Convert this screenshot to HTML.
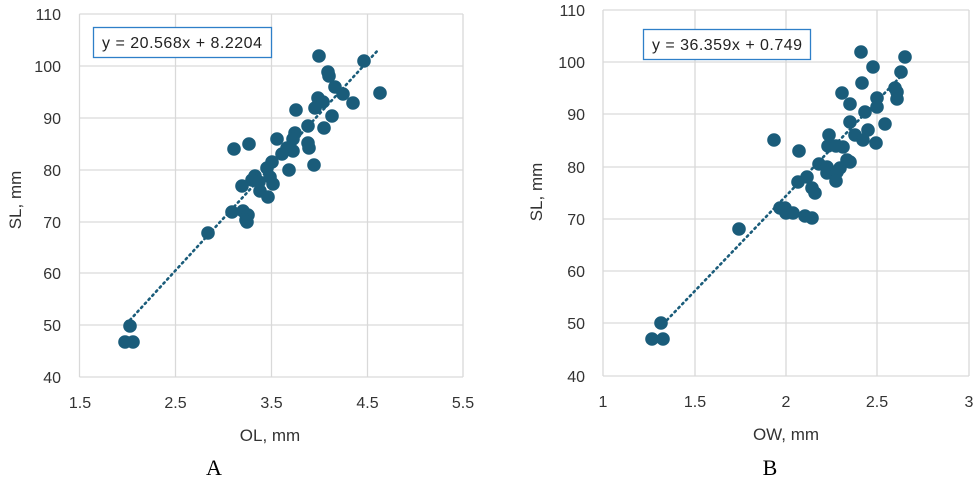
<!DOCTYPE html>
<html><head><meta charset="utf-8"><style>
html,body{margin:0;padding:0;background:#fff;}
svg{display:block;font-family:"Liberation Sans",sans-serif;}
</style></head><body>
<svg width="976" height="478" viewBox="0 0 976 478" xmlns="http://www.w3.org/2000/svg">
<g stroke="#d9d9d9" stroke-width="1.3" fill="none">
<line x1="79.5" y1="14" x2="463" y2="14"/><line x1="79.5" y1="66" x2="463" y2="66"/><line x1="79.5" y1="118" x2="463" y2="118"/><line x1="79.5" y1="170" x2="463" y2="170"/><line x1="79.5" y1="222" x2="463" y2="222"/><line x1="79.5" y1="273" x2="463" y2="273"/><line x1="79.5" y1="325" x2="463" y2="325"/><line x1="79.5" y1="377" x2="463" y2="377"/>
<line x1="79.5" y1="14" x2="79.5" y2="377"/><line x1="175.5" y1="14" x2="175.5" y2="377"/><line x1="271.5" y1="14" x2="271.5" y2="377"/><line x1="367.5" y1="14" x2="367.5" y2="377"/><line x1="463" y1="14" x2="463" y2="377"/>
<line x1="603" y1="10" x2="969" y2="10"/><line x1="603" y1="62" x2="969" y2="62"/><line x1="603" y1="114" x2="969" y2="114"/><line x1="603" y1="167" x2="969" y2="167"/><line x1="603" y1="219" x2="969" y2="219"/><line x1="603" y1="271" x2="969" y2="271"/><line x1="603" y1="323" x2="969" y2="323"/><line x1="603" y1="376" x2="969" y2="376"/>
<line x1="603" y1="10" x2="603" y2="376"/><line x1="695" y1="10" x2="695" y2="376"/><line x1="786" y1="10" x2="786" y2="376"/><line x1="877" y1="10" x2="877" y2="376"/><line x1="969" y1="10" x2="969" y2="376"/>
</g>
<g stroke="#1a5c7a" stroke-width="2.6" stroke-dasharray="1.5 4" stroke-linecap="round">
<line x1="130" y1="320" x2="379" y2="49"/>
<line x1="667" y1="320" x2="902" y2="75"/>
</g>
<g fill="#1a5c7a">
<circle cx="319" cy="56" r="6.8"/><circle cx="364" cy="61" r="6.8"/><circle cx="328" cy="72" r="6.8"/><circle cx="329" cy="76" r="6.8"/><circle cx="335" cy="87" r="6.8"/><circle cx="343" cy="94" r="6.8"/><circle cx="380" cy="93" r="6.8"/><circle cx="353" cy="103" r="6.8"/><circle cx="318" cy="98" r="6.8"/><circle cx="323" cy="102" r="6.8"/><circle cx="315" cy="108" r="6.8"/><circle cx="296" cy="110" r="6.8"/><circle cx="332" cy="116" r="6.8"/><circle cx="308" cy="126" r="6.8"/><circle cx="324" cy="128" r="6.8"/><circle cx="277" cy="139" r="6.8"/><circle cx="295" cy="133" r="6.8"/><circle cx="293" cy="139" r="6.8"/><circle cx="308" cy="143" r="6.8"/><circle cx="309" cy="148" r="6.8"/><circle cx="293" cy="151" r="6.8"/><circle cx="287" cy="148" r="6.8"/><circle cx="282" cy="154" r="6.8"/><circle cx="234" cy="149" r="6.8"/><circle cx="249" cy="144" r="6.8"/><circle cx="314" cy="165" r="6.8"/><circle cx="289" cy="170" r="6.8"/><circle cx="272" cy="162" r="6.8"/><circle cx="267" cy="168" r="6.8"/><circle cx="270" cy="177" r="6.8"/><circle cx="273" cy="184" r="6.8"/><circle cx="255" cy="176" r="6.8"/><circle cx="252" cy="180" r="6.8"/><circle cx="259" cy="182" r="6.8"/><circle cx="242" cy="186" r="6.8"/><circle cx="260" cy="191" r="6.8"/><circle cx="268" cy="197" r="6.8"/><circle cx="232" cy="212" r="6.8"/><circle cx="243" cy="211" r="6.8"/><circle cx="248" cy="215" r="6.8"/><circle cx="246" cy="220" r="6.8"/><circle cx="247" cy="222" r="6.8"/><circle cx="208" cy="233" r="6.8"/><circle cx="130" cy="326" r="6.8"/><circle cx="125" cy="342" r="6.8"/><circle cx="133" cy="342" r="6.8"/>
<circle cx="861" cy="52" r="6.8"/><circle cx="905" cy="57" r="6.8"/><circle cx="873" cy="67" r="6.8"/><circle cx="901" cy="72" r="6.8"/><circle cx="862" cy="83" r="6.8"/><circle cx="895" cy="88" r="6.8"/><circle cx="897" cy="92" r="6.8"/><circle cx="842" cy="93" r="6.8"/><circle cx="877" cy="98" r="6.8"/><circle cx="897" cy="99" r="6.8"/><circle cx="850" cy="104" r="6.8"/><circle cx="877" cy="107" r="6.8"/><circle cx="865" cy="112" r="6.8"/><circle cx="850" cy="122" r="6.8"/><circle cx="885" cy="124" r="6.8"/><circle cx="855" cy="135" r="6.8"/><circle cx="868" cy="130" r="6.8"/><circle cx="863" cy="140" r="6.8"/><circle cx="876" cy="143" r="6.8"/><circle cx="829" cy="135" r="6.8"/><circle cx="828" cy="146" r="6.8"/><circle cx="843" cy="147" r="6.8"/><circle cx="836" cy="146" r="6.8"/><circle cx="847" cy="160" r="6.8"/><circle cx="850" cy="162" r="6.8"/><circle cx="819" cy="164" r="6.8"/><circle cx="827" cy="167" r="6.8"/><circle cx="840" cy="168" r="6.8"/><circle cx="827" cy="173" r="6.8"/><circle cx="837" cy="172" r="6.8"/><circle cx="836" cy="181" r="6.8"/><circle cx="774" cy="140" r="6.8"/><circle cx="799" cy="151" r="6.8"/><circle cx="807" cy="177" r="6.8"/><circle cx="798" cy="182" r="6.8"/><circle cx="812" cy="188" r="6.8"/><circle cx="815" cy="193" r="6.8"/><circle cx="780" cy="208" r="6.8"/><circle cx="785" cy="208" r="6.8"/><circle cx="786" cy="213" r="6.8"/><circle cx="793" cy="213" r="6.8"/><circle cx="805" cy="216" r="6.8"/><circle cx="812" cy="218" r="6.8"/><circle cx="739" cy="229" r="6.8"/><circle cx="661" cy="323" r="6.8"/><circle cx="652" cy="339" r="6.8"/><circle cx="663" cy="339" r="6.8"/>
</g>
<rect x="93.5" y="27.5" width="178" height="30" fill="#fff" stroke="#2e7fc8" stroke-width="1.3"/>
<text x="182" y="48" font-size="16" fill="#222" text-anchor="middle" textLength="160">y = 20.568x + 8.2204</text>
<rect x="643.5" y="29.5" width="167" height="30" fill="#fff" stroke="#2e7fc8" stroke-width="1.3"/>
<text x="727" y="50" font-size="16" fill="#222" text-anchor="middle" textLength="150">y = 36.359x + 0.749</text>
<g font-size="16" fill="#333">
<g text-anchor="end">
<text x="61" y="20">110</text><text x="61" y="72">100</text><text x="61" y="124">90</text><text x="61" y="176">80</text><text x="61" y="228">70</text><text x="61" y="279">60</text><text x="61" y="331">50</text><text x="61" y="383">40</text>
<text x="585" y="16">110</text><text x="585" y="68">100</text><text x="585" y="120">90</text><text x="585" y="173">80</text><text x="585" y="225">70</text><text x="585" y="277">60</text><text x="585" y="329">50</text><text x="585" y="382">40</text>
</g>
<g text-anchor="middle">
<text x="80" y="408">1.5</text><text x="175.5" y="408">2.5</text><text x="271.5" y="408">3.5</text><text x="367.5" y="408">4.5</text><text x="463" y="408">5.5</text>
<text x="603" y="407">1</text><text x="695" y="407">1.5</text><text x="786" y="407">2</text><text x="877" y="407">2.5</text><text x="969" y="407">3</text>
<text x="270" y="441" font-size="17">OL, mm</text>
<text x="786" y="440" font-size="17">OW, mm</text>
<text transform="translate(21,200) rotate(-90)" font-size="17">SL, mm</text>
<text transform="translate(542,192) rotate(-90)" font-size="17">SL, mm</text>
</g>
</g>
<g font-family="Liberation Serif,serif" font-size="22" fill="#000" text-anchor="middle">
<text x="214" y="475">A</text>
<text x="770" y="475">B</text>
</g>
</svg>
</body></html>
